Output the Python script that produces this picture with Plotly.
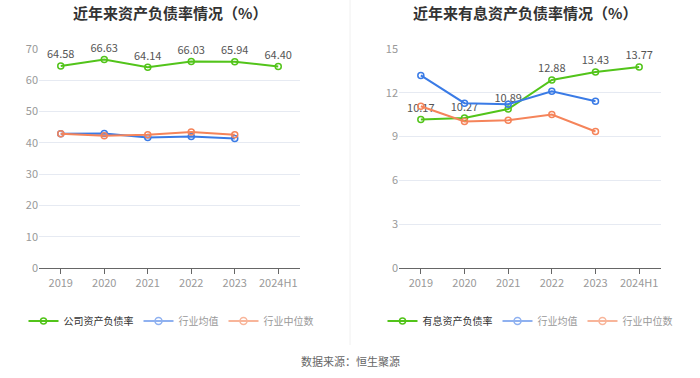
import plotly.graph_objects as go

years = ["2019", "2020", "2021", "2022", "2023", "2024H1"]

# Left chart: asset-liability ratio (%)
company_ratio = [64.58, 66.63, 64.14, 66.03, 65.94, 64.40]
industry_avg_left = [42.9, 43.0, 41.7, 42.0, 41.4]
industry_med_left = [42.9, 42.3, 42.6, 43.5, 42.6]

# Right chart: interest-bearing asset-liability ratio (%)
interest_ratio = [10.17, 10.27, 10.89, 12.88, 13.43, 13.77]
industry_avg_right = [13.19, 11.29, 11.22, 12.11, 11.42]
industry_med_right = [11.08, 10.03, 10.12, 10.51, 9.35]

left_ticks = [0, 10, 20, 30, 40, 50, 60, 70]
right_ticks = [0, 3, 6, 9, 12, 15]

GREEN = "#52c41a"
BLUE = "#3a7be6"
ORANGE = "#f5845a"
BLUE_FADED = "#8fb1f0"
ORANGE_FADED = "#f8b59a"
FONT = "Noto Sans CJK SC, Noto Sans, sans-serif"

W, H = 700, 378
TOP, BOTTOM = 49, 268  # plot area pixel rows
PH = BOTTOM - TOP

def py(pix_from_top):
    """paper y coordinate for a pixel row (from top)."""
    return (H - pix_from_top - (H - BOTTOM)) / PH

fig = go.Figure()

def add_series(x, y, color, name, xaxis, yaxis, legend, labels=False, legend_color=None):
    show = legend_color is None
    fig.add_trace(go.Scatter(
        x=x, y=y, name=name, mode="lines+markers+text" if labels else "lines+markers",
        line=dict(color=color, width=2),
        marker=dict(symbol="circle-open", size=6, color=color, line=dict(width=1.5, color=color)),
        text=[f"{v:.2f}" for v in y] if labels else None,
        textposition="top center",
        textfont=dict(size=11, color="#555555", family=FONT),
        xaxis=xaxis, yaxis=yaxis, legend=legend, cliponaxis=False,
        hoverinfo="skip", showlegend=show,
    ))
    if not show:
        # legend-only entry in the faded style of the reference
        fig.add_trace(go.Scatter(
            x=[None], y=[None], name=f"<span style='color:#999999'>{name}</span>",
            mode="lines+markers",
            line=dict(color=legend_color, width=2),
            marker=dict(symbol="circle-open", size=7, color=legend_color,
                        line=dict(width=1.5, color=legend_color)),
            xaxis=xaxis, yaxis=yaxis, legend=legend, hoverinfo="skip",
        ))

add_series(years, company_ratio, GREEN, "公司资产负债率", "x", "y", "legend", labels=True)
add_series(years[:5], industry_avg_left, BLUE, "行业均值", "x", "y", "legend", legend_color=BLUE_FADED)
add_series(years[:5], industry_med_left, ORANGE, "行业中位数", "x", "y", "legend", legend_color=ORANGE_FADED)

add_series(years, interest_ratio, GREEN, "有息资产负债率", "x2", "y2", "legend2", labels=True)
add_series(years[:5], industry_avg_right, BLUE, "行业均值", "x2", "y2", "legend2", legend_color=BLUE_FADED)
add_series(years[:5], industry_med_right, ORANGE, "行业中位数", "x2", "y2", "legend2", legend_color=ORANGE_FADED)

xaxis_common = dict(
    type="category", showgrid=False, showline=True, linecolor="#666666", linewidth=1,
    ticks="outside", ticklen=5, tickcolor="#666666",
    tickfont=dict(size=11, color="#999999", family=FONT), zeroline=False,
    range=[-0.5, 5.5], fixedrange=True,
)
yaxis_common = dict(
    showgrid=True, gridcolor="#e6eaf2", gridwidth=1, zeroline=False, showline=False,
    tickfont=dict(size=11, color="#999999", family=FONT), ticks="", fixedrange=True,
)

legend_common = dict(
    orientation="h", yref="container", y=1 - 321 / H, xanchor="center", yanchor="middle",
    font=dict(size=10, color="#333333", family=FONT), itemwidth=30,
    bgcolor="rgba(0,0,0,0)", tracegroupgap=0,
)

fig.update_layout(
    width=W, height=H,
    margin=dict(l=0, r=0, t=TOP, b=H - BOTTOM, autoexpand=False),
    paper_bgcolor="white", plot_bgcolor="white",
    font=dict(family=FONT),
    xaxis=dict(domain=[39 / W, 300 / W], anchor="y", **xaxis_common),
    yaxis=dict(domain=[0, 1], anchor="x", range=[0, 70], tickvals=left_ticks, **yaxis_common),
    xaxis2=dict(domain=[399 / W, 661 / W], anchor="y2", **xaxis_common),
    yaxis2=dict(domain=[0, 1], anchor="x2", range=[0, 15], tickvals=right_ticks, **yaxis_common),
    legend=dict(x=171 / W, **legend_common),
    legend2=dict(x=530 / W, **legend_common),
    showlegend=True,
    annotations=[
        dict(text="<b>近年来资产负债率情况（%）</b>", x=170 / W, y=py(12), xref="paper", yref="paper",
             showarrow=False, font=dict(size=15, color="#333333", family=FONT), xanchor="center", yanchor="middle"),
        dict(text="<b>近年来有息资产负债率情况（%）</b>", x=525 / W, y=py(12), xref="paper", yref="paper",
             showarrow=False, font=dict(size=15, color="#333333", family=FONT), xanchor="center", yanchor="middle"),
        dict(text="数据来源：恒生聚源", x=0.5, y=py(361), xref="paper", yref="paper",
             showarrow=False, font=dict(size=11, color="#666666", family=FONT), xanchor="center", yanchor="middle"),
    ],
    shapes=[
        dict(type="line", xref="paper", yref="paper", x0=0.5, x1=0.5, y0=py(345), y1=py(0),
             line=dict(color="#f0f0f0", width=1)),
    ],
)

fig.write_html("out.html", config={"displayModeBar": False},
               post_script="document.body.style.margin='0';document.body.style.overflow='hidden';")
